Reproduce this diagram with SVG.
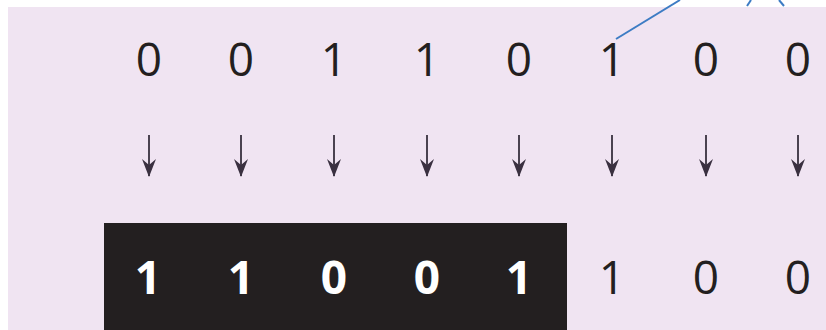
<svg xmlns="http://www.w3.org/2000/svg" width="826" height="330" viewBox="0 0 826 330">
<defs>
<style>
.d{font-family:"Open Sans","Liberation Sans",sans-serif;font-size:46px;text-anchor:middle;fill:#231f20}
.w{fill:#ffffff;font-weight:700}
.s{stroke:#4a4250;stroke-width:2}
.b{stroke:#3d7cc4;stroke-width:2;fill:none}
</style>
<marker id="ah" viewBox="0 0 18 14" refX="17" refY="7" markerWidth="18" markerHeight="14" markerUnits="userSpaceOnUse" orient="auto">
<path d="M0,0 L18,7 L0,14 L6,7 Z" fill="#3a3040"/>
</marker>
</defs>
<rect width="826" height="330" fill="#ffffff"/>
<rect x="8" y="7" width="818" height="323" fill="#f0e4f2"/>
<g id="input">
<text class="d" x="149" y="76">0</text>
<text class="d" x="241" y="76">0</text>
<text class="d" x="334" y="76">1</text>
<text class="d" x="427" y="76">1</text>
<text class="d" x="519" y="76">0</text>
<text class="d" x="612" y="76">1</text>
<text class="d" x="706" y="76">0</text>
<text class="d" x="798" y="76">0</text>
</g>
<g id="connectors">
<line class="s" x1="149" y1="135" x2="149" y2="176" marker-end="url(#ah)"/>
<line class="s" x1="241" y1="135" x2="241" y2="176" marker-end="url(#ah)"/>
<line class="s" x1="334" y1="135" x2="334" y2="176" marker-end="url(#ah)"/>
<line class="s" x1="427" y1="135" x2="427" y2="176" marker-end="url(#ah)"/>
<line class="s" x1="519" y1="135" x2="519" y2="176" marker-end="url(#ah)"/>
<line class="s" x1="612" y1="135" x2="612" y2="176" marker-end="url(#ah)"/>
<line class="s" x1="706" y1="135" x2="706" y2="176" marker-end="url(#ah)"/>
<line class="s" x1="798" y1="135" x2="798" y2="176" marker-end="url(#ah)"/>
<line class="b" x1="616" y1="39" x2="680" y2="0"/>
<line class="b" x1="747" y1="6" x2="751" y2="0"/>
<line class="b" x1="784" y1="6" x2="779" y2="0"/>
</g>
<g id="output">
<rect x="104" y="223" width="463" height="107" fill="#231f20"/>
<text class="d w" x="148" y="294">1</text>
<text class="d w" x="241" y="294">1</text>
<text class="d w" x="334" y="294">0</text>
<text class="d w" x="427" y="294">0</text>
<text class="d w" x="519" y="294">1</text>
<text class="d" x="612" y="294">1</text>
<text class="d" x="706" y="294">0</text>
<text class="d" x="798" y="294">0</text>
</g>
</svg>
